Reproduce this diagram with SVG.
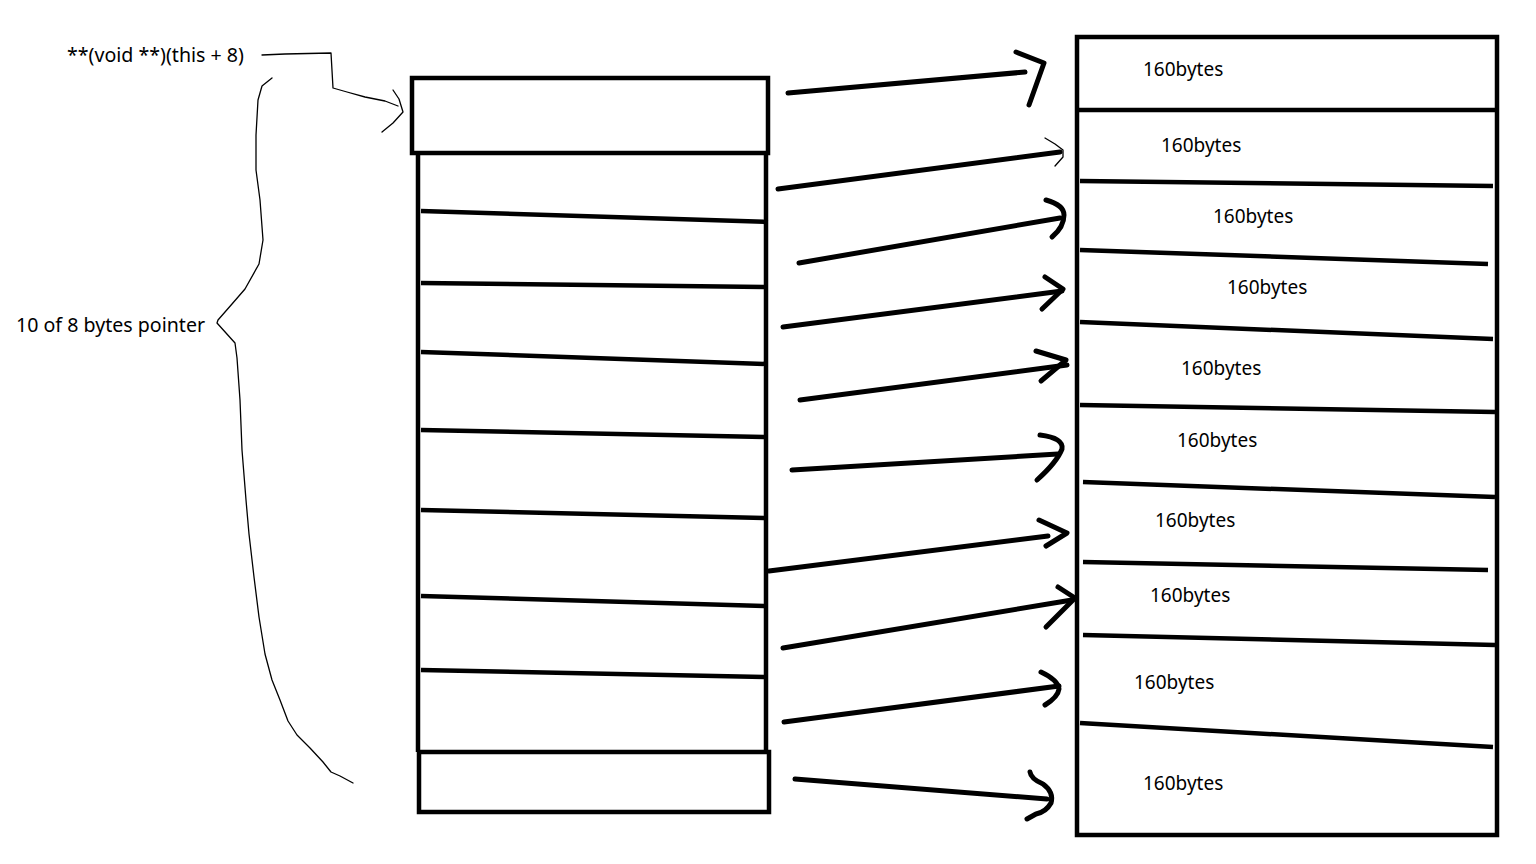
<svg xmlns="http://www.w3.org/2000/svg" width="1536" height="864" viewBox="0 0 1536 864">
<style>
.bg{fill:#fff}
.box{fill:none;stroke:#000;stroke-width:4.5}
.div{fill:none;stroke:#000;stroke-width:4.5;stroke-linecap:butt}
.arr{fill:none;stroke:#000;stroke-width:5;stroke-linecap:round;stroke-linejoin:round}
.thin{fill:none;stroke:#000;stroke-width:1.3;stroke-linejoin:round;stroke-linecap:round}
.lbl{font-family:"Noto Sans","Open Sans","Liberation Sans",sans-serif;font-size:19px;fill:#000}
.side{font-size:19.6px}
</style>
<rect class="bg" x="0" y="0" width="1536" height="864"/>

<g id="pointer-array">
  <rect class="box" x="412" y="78" width="356" height="75"/>
  <path class="box" d="M418 153 V752 M766 153 V752"/>
  <rect class="box" x="419" y="752" width="350" height="60"/>
  <path class="div" d="M421 211 L768 222 M421 283 L766 287 M421 352 L766 364 M421 430 L766 437 M421 510 L766 518 M421 596 L766 606 M421 670 L766 677"/>
</g>

<g id="blocks">
  <rect class="box" x="1077" y="37" width="420" height="798"/>
  <path class="div" d="M1077 110 L1497 110 M1080 181 L1493 186 M1080 250 L1488 264 M1080 322 L1493 339 M1080 405 L1495 412 M1083 482 L1495 497 M1083 562 L1488 570 M1083 635 L1495 645 M1080 723 L1493 747"/>
  <text class="lbl" x="1143" y="76">160bytes</text>
  <text class="lbl" x="1161" y="152">160bytes</text>
  <text class="lbl" x="1213" y="223">160bytes</text>
  <text class="lbl" x="1227" y="294">160bytes</text>
  <text class="lbl" x="1181" y="375">160bytes</text>
  <text class="lbl" x="1177" y="447">160bytes</text>
  <text class="lbl" x="1155" y="527">160bytes</text>
  <text class="lbl" x="1150" y="602">160bytes</text>
  <text class="lbl" x="1134" y="689">160bytes</text>
  <text class="lbl" x="1143" y="790">160bytes</text>
</g>

<g id="labels">
  <text class="lbl side" x="67" y="62">**(void **)(this + 8)</text>
  <text class="lbl side" x="16" y="332">10 of 8 bytes pointer</text>
</g>

<g id="brace">
  <path class="thin" d="M272 78 L262 86 L258 100 L256 135 L256 170 L260 200 L263 240 L259 264 L245 289 L232 304 L218 320 L217 323 L226 333 L235 343 L237 358 L240 400 L242 450 L246 500 L249 534 L254 577 L259 617 L265 654 L272 680 L280 700 L288 721 L297 735 L310 748 L323 762 L331 772 L340 776 L353 783"/>
</g>

<g id="connectors">
  <path class="thin" d="M262 55 L285 54 L331 53 L333 88 L347 92 L365 97 L385 101 L398 106"/>
  <path class="thin" d="M393 90 L399 99 L403 112 L393 123 L382 132"/>

  <path class="arr" d="M788 93 L1025 72"/>
  <path class="arr" d="M1016 52 L1044 63 L1029 105"/>

  <path class="arr" d="M778 189 L1060 152"/>
  <path class="thin" d="M1045 138 L1055 144 L1063 150 L1063 157 L1055 166"/>

  <path class="arr" d="M799 263 L1060 218"/>
  <path class="arr" d="M1046 200 Q1064 205 1064 215 Q1064 227 1052 237"/>

  <path class="arr" d="M783 327 L1062 291"/>
  <path class="arr" d="M1045 277 L1063 289 L1042 309"/>

  <path class="arr" d="M800 400 L1067 365"/>
  <path class="arr" d="M1036 351 L1066 360 L1041 381"/>

  <path class="arr" d="M792 470 L1058 454"/>
  <path class="arr" d="M1040 435 Q1064 438 1062 449 Q1057 462 1037 480"/>

  <path class="arr" d="M769 571 L1048 536"/>
  <path class="arr" d="M1039 520 L1067 533 L1046 546"/>

  <path class="arr" d="M783 648 L1072 600"/>
  <path class="arr" d="M1058 587 L1075 598 L1046 627"/>

  <path class="arr" d="M784 722 L1059 686"/>
  <path class="arr" d="M1041 672 Q1058 680 1059 689 Q1058 697 1045 705"/>

  <path class="arr" d="M795 779 L1047 799"/>
  <path class="arr" d="M1030 772 Q1031 779 1043 784 Q1054 792 1051 803 Q1046 812 1036 814 L1027 819"/>
</g>
</svg>
